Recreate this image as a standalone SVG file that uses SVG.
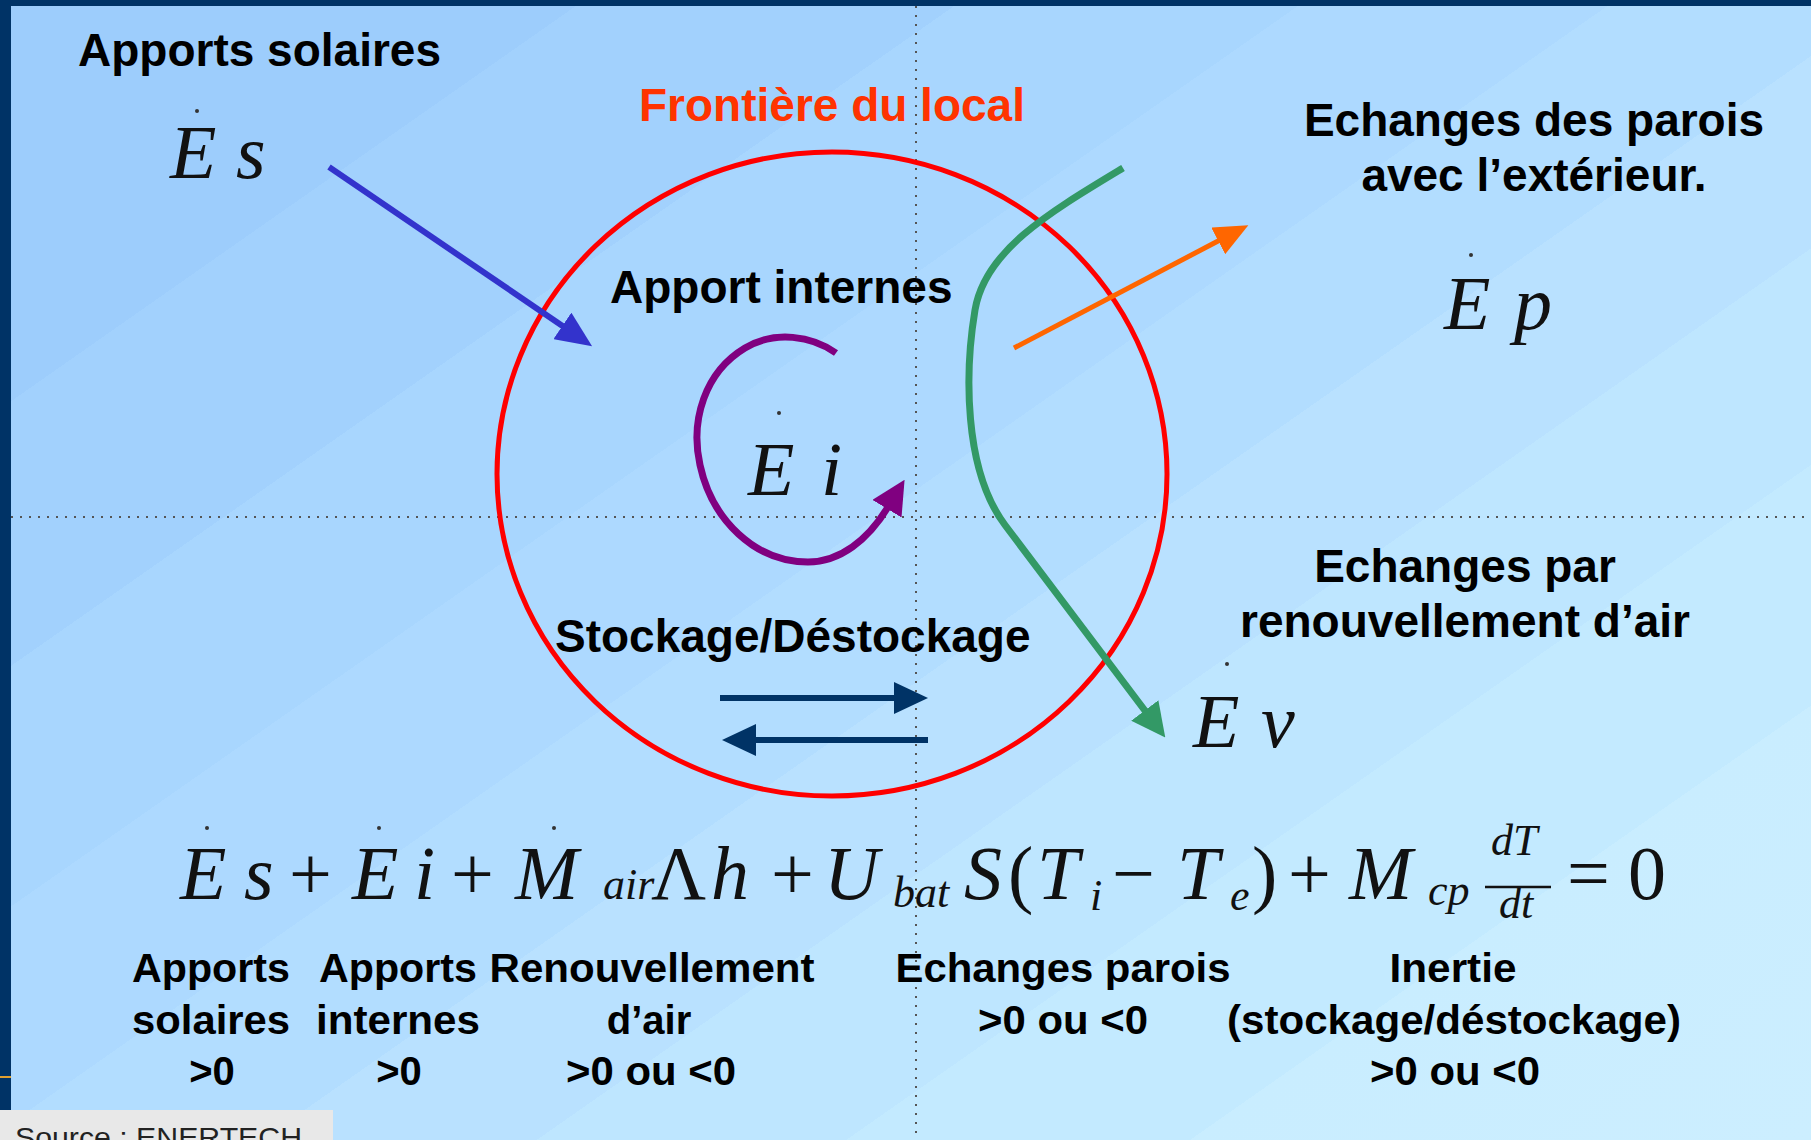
<svg xmlns="http://www.w3.org/2000/svg" width="1811" height="1140" viewBox="0 0 1811 1140">
<defs>
<style>
.lbl{font-family:"Liberation Sans",Arial,sans-serif;font-weight:bold;font-size:46px;fill:#000}
.ctr{text-anchor:middle}
.bot{font-family:"Liberation Sans",Arial,sans-serif;font-weight:bold;font-size:40px;fill:#000;text-anchor:middle}
.math{font-family:"Liberation Serif","Times New Roman",serif;font-style:italic;font-size:76px;fill:#111}
.up{font-style:normal}
.sub{font-size:44px}
.dot{fill:#333}
.grid{stroke:#555;stroke-width:2;stroke-dasharray:2 7;fill:none}
.flow{fill:none;stroke-linecap:butt}
</style>
<linearGradient id="bg" gradientUnits="userSpaceOnUse" x1="0" y1="0" x2="1130" y2="1615">
<stop offset="0" stop-color="#9DCDFC"/><stop offset="0.17" stop-color="#9DCDFC"/>
<stop offset="0.17" stop-color="#A2D1FD"/><stop offset="0.28" stop-color="#A2D1FD"/>
<stop offset="0.28" stop-color="#A8D6FE"/><stop offset="0.38" stop-color="#A8D6FE"/>
<stop offset="0.38" stop-color="#ADD9FF"/><stop offset="0.47" stop-color="#ADD9FF"/>
<stop offset="0.47" stop-color="#B2DDFF"/><stop offset="0.55" stop-color="#B2DDFF"/>
<stop offset="0.55" stop-color="#B9E1FF"/><stop offset="0.63" stop-color="#B9E1FF"/>
<stop offset="0.63" stop-color="#BEE6FF"/><stop offset="0.72" stop-color="#BEE6FF"/>
<stop offset="0.72" stop-color="#C3EAFF"/><stop offset="0.82" stop-color="#C3EAFF"/>
<stop offset="0.82" stop-color="#C9EDFF"/><stop offset="1" stop-color="#CCEEFF"/>
</linearGradient>
<marker id="ah-blue" markerUnits="userSpaceOnUse" markerWidth="36" markerHeight="32" viewBox="0 0 36 32" refX="2" refY="16" orient="auto"><path d="M0,0 L36,16 L0,32 Z" fill="#3333CC"/></marker>
<marker id="ah-orange" markerUnits="userSpaceOnUse" markerWidth="34" markerHeight="30" viewBox="0 0 34 30" refX="2" refY="15" orient="auto"><path d="M0,0 L34,15 L0,30 Z" fill="#FF6600"/></marker>
<marker id="ah-green" markerUnits="userSpaceOnUse" markerWidth="34" markerHeight="34" viewBox="0 0 34 34" refX="2" refY="17" orient="auto"><path d="M0,0 L34,17 L0,34 Z" fill="#339966"/></marker>
<marker id="ah-purple" markerUnits="userSpaceOnUse" markerWidth="34" markerHeight="34" viewBox="0 0 34 34" refX="2" refY="17" orient="auto"><path d="M0,0 L34,17 L0,34 Z" fill="#800080"/></marker>
<marker id="ah-navy" markerUnits="userSpaceOnUse" markerWidth="34" markerHeight="32" viewBox="0 0 34 32" refX="2" refY="16" orient="auto"><path d="M0,0 L34,16 L0,32 Z" fill="#003366"/></marker>
</defs>

<g id="background">
<rect x="0" y="0" width="1811" height="1140" fill="url(#bg)"/>
<rect x="0" y="0" width="1811" height="6" fill="#003366"/>
<rect x="0" y="0" width="11" height="1110" fill="#003366"/>
<rect x="0" y="1076" width="11" height="2" fill="#E0A030"/>
<line class="grid" x1="916" y1="6" x2="916" y2="1140"/>
<line class="grid" x1="11" y1="517" x2="1811" y2="517"/>
</g>

<g id="local-boundary">
<ellipse cx="832" cy="474" rx="335" ry="322" fill="none" stroke="#FF0000" stroke-width="5"/>
<text class="lbl" x="639" y="121" style="fill:#FF3300">Frontière du local</text>
</g>

<g id="apports-solaires">
<text class="lbl" x="78" y="66">Apports solaires</text>
<text class="math" y="178"><tspan x="170">E</tspan><tspan x="236">s</tspan></text>
<circle class="dot" cx="197" cy="111" r="2"/>
</g>

<g id="apport-internes">
<text class="lbl" x="610" y="303">Apport internes</text>
<text class="math" y="495"><tspan x="748">E</tspan><tspan x="821">i</tspan></text>
<circle class="dot" cx="779" cy="413" r="2"/>
</g>

<g id="echanges-parois">
<text class="lbl ctr" x="1534" y="136">Echanges des parois</text>
<text class="lbl ctr" x="1534" y="191">avec l’extérieur.</text>
<text class="math" y="329"><tspan x="1444">E</tspan><tspan x="1514">p</tspan></text>
<circle class="dot" cx="1471" cy="255" r="2"/>
</g>

<g id="echanges-air">
<text class="lbl ctr" x="1465" y="582">Echanges par</text>
<text class="lbl ctr" x="1465" y="637">renouvellement d’air</text>
<text class="math" y="747"><tspan x="1193">E</tspan><tspan x="1261">v</tspan></text>
<circle class="dot" cx="1227" cy="664" r="2"/>
</g>

<g id="stockage">
<text class="lbl" x="555" y="652">Stockage/Déstockage</text>
</g>

<g id="connectors">
<path class="flow" d="M329,167 L564,327" stroke="#3333CC" stroke-width="6" marker-end="url(#ah-blue)"/>
<path class="flow" d="M1014,348 L1220,240" stroke="#FF6600" stroke-width="5" marker-end="url(#ah-orange)"/>
<path class="flow" d="M1123,168 C1050,212 985,250 975,310 C965,370 963,469 1005,525 L1146,712" stroke="#339966" stroke-width="7" marker-end="url(#ah-green)"/>
<path class="flow" d="M836,353 C812,336 775,330 745,348 C705,372 690,420 700,465 C712,520 755,562 808,562 C840,562 868,540 888,507" stroke="#800080" stroke-width="7" marker-end="url(#ah-purple)"/>
<path class="flow" d="M720,698 L896,698" stroke="#003366" stroke-width="6" marker-end="url(#ah-navy)"/>
<path class="flow" d="M928,740 L754,740" stroke="#003366" stroke-width="6" marker-end="url(#ah-navy)"/>
</g>

<g id="equation">
<text class="math" y="899"><tspan x="180">E</tspan><tspan x="244">s</tspan><tspan class="up" x="289">+</tspan><tspan x="352">E</tspan><tspan x="414">i</tspan><tspan class="up" x="451">+</tspan><tspan x="515">M</tspan><tspan class="sub" x="603">air</tspan><tspan class="up" x="651">Λ</tspan><tspan x="711">h</tspan><tspan class="up" x="771">+</tspan><tspan x="824">U</tspan><tspan class="sub" x="893" y="907">bat</tspan><tspan x="964" y="899">S</tspan><tspan class="up" x="1008">(</tspan><tspan x="1037">T</tspan><tspan class="sub" x="1090" y="910">i</tspan><tspan class="up" x="1112" y="899">−</tspan><tspan x="1177">T</tspan><tspan class="sub" x="1230" y="910">e</tspan><tspan class="up" x="1252" y="899">)</tspan><tspan class="up" x="1288">+</tspan><tspan x="1349">M</tspan><tspan class="sub" x="1428" y="905">cp</tspan><tspan class="sub" x="1491" y="855">dT</tspan><tspan class="sub" x="1499" y="918">dt</tspan><tspan class="up" x="1567" y="899">=</tspan><tspan class="up" x="1628">0</tspan></text>
<line x1="1485" y1="887" x2="1551" y2="887" stroke="#111" stroke-width="2.5"/>
<circle class="dot" cx="207" cy="828" r="2"/>
<circle class="dot" cx="379" cy="828" r="2"/>
<circle class="dot" cx="554" cy="828" r="2"/>
</g>

<g id="legend-solaires">
<text class="bot" x="211" y="982" textLength="158" lengthAdjust="spacingAndGlyphs">Apports</text>
<text class="bot" x="211" y="1034" textLength="158" lengthAdjust="spacingAndGlyphs">solaires</text>
<text class="bot" x="212" y="1085">&gt;0</text>
</g>
<g id="legend-internes">
<text class="bot" x="398" y="982" textLength="158" lengthAdjust="spacingAndGlyphs">Apports</text>
<text class="bot" x="398" y="1034" textLength="164" lengthAdjust="spacingAndGlyphs">internes</text>
<text class="bot" x="399" y="1085">&gt;0</text>
</g>
<g id="legend-renouvellement">
<text class="bot" x="652" y="982" textLength="325" lengthAdjust="spacingAndGlyphs">Renouvellement</text>
<text class="bot" x="649" y="1034">d’air</text>
<text class="bot" x="651" y="1085" textLength="170" lengthAdjust="spacingAndGlyphs">&gt;0 ou &lt;0</text>
</g>
<g id="legend-parois">
<text class="bot" x="1063" y="982" textLength="335" lengthAdjust="spacingAndGlyphs">Echanges parois</text>
<text class="bot" x="1063" y="1034" textLength="170" lengthAdjust="spacingAndGlyphs">&gt;0 ou &lt;0</text>
</g>
<g id="legend-inertie">
<text class="bot" x="1453" y="982" textLength="127" lengthAdjust="spacingAndGlyphs">Inertie</text>
<text class="bot" x="1454" y="1034" textLength="454" lengthAdjust="spacingAndGlyphs">(stockage/déstockage)</text>
<text class="bot" x="1455" y="1085" textLength="170" lengthAdjust="spacingAndGlyphs">&gt;0 ou &lt;0</text>
</g>

<g id="source">
<rect x="0" y="1110" width="333" height="30" fill="#E8E8E8"/>
<text x="15" y="1147" font-family="'Liberation Sans',Arial,sans-serif" font-size="28" fill="#222" textLength="287" lengthAdjust="spacingAndGlyphs">Source : ENERTECH</text>
</g>
</svg>
